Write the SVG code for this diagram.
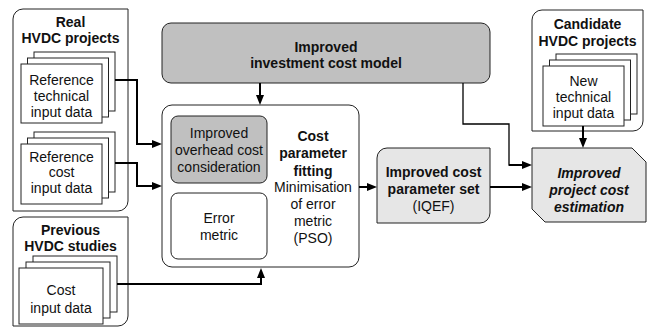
<svg xmlns="http://www.w3.org/2000/svg" width="647" height="327" viewBox="0 0 647 327">
<style>
text{font-family:"Liberation Sans",Arial,sans-serif;font-size:14px;fill:#111;text-anchor:middle}
.b{font-weight:bold}
.bi{font-weight:bold;font-style:italic}
.box{stroke:#222;stroke-width:1}
.pg{fill:#fff;stroke:#222;stroke-width:1}
.wh{fill:#fff}
.dk{fill:#c0c0c0}
.lt{fill:#e6e6e6}
.c{fill:none;stroke:#000;stroke-width:2}
.t{fill:none;stroke:#000;stroke-width:1.3}
</style>
<defs>
<marker id="ah" markerUnits="userSpaceOnUse" markerWidth="10" markerHeight="8" refX="2" refY="4" orient="auto">
<path d="M0,0 L10,4 L0,8 z" fill="#000"/>
</marker>
</defs>

<g id="real-projects">
<path class="box wh" d="M23,9 H128 V201 A10,10 0 0 1 118,211 H13 V19 A10,10 0 0 1 23,9 Z"/>
<text class="b" x="70.5" y="27">Real</text>
<text class="b" x="70.5" y="43">HVDC projects</text>
</g>
<g id="ref-technical">
<rect class="pg" x="34" y="52" width="81" height="59"/>
<rect class="pg" x="27.5" y="58" width="81" height="59"/>
<rect class="pg" x="21" y="64" width="81" height="59"/>
<text x="61.5" y="85">Reference</text>
<text x="61.5" y="101">technical</text>
<text x="61.5" y="117">input data</text>
</g>
<g id="ref-cost">
<rect class="pg" x="34" y="132" width="81" height="60"/>
<rect class="pg" x="27.5" y="138" width="81" height="60"/>
<rect class="pg" x="21" y="144" width="81" height="60"/>
<text x="61.5" y="162">Reference</text>
<text x="61.5" y="177">cost</text>
<text x="61.5" y="193">input data</text>
</g>

<g id="previous-studies">
<path class="box wh" d="M23,217 H128 V316 A10,10 0 0 1 118,326 H13 V227 A10,10 0 0 1 23,217 Z"/>
<text class="b" x="70.5" y="235">Previous</text>
<text class="b" x="70.5" y="251">HVDC studies</text>
</g>
<g id="cost-input">
<rect class="pg" x="33" y="256" width="84" height="56"/>
<rect class="pg" x="26" y="262" width="84" height="56"/>
<rect class="pg" x="19" y="268" width="84" height="56"/>
<text x="61" y="295">Cost</text>
<text x="61" y="313">input data</text>
</g>

<g id="investment-model">
<rect class="box dk" x="162" y="23" width="328" height="60" rx="9"/>
<text class="b" x="326" y="52">Improved</text>
<text class="b" x="326" y="68">investment cost model</text>
</g>

<g id="parameter-fitting">
<rect class="box wh" x="162" y="105" width="197" height="162" rx="10"/>
<text class="b" x="313" y="141">Cost</text>
<text class="b" x="313" y="158">parameter</text>
<text class="b" x="313" y="176">fitting</text>
<text x="313" y="192">Minimisation</text>
<text x="313" y="209">of error</text>
<text x="313" y="226">metric</text>
<text x="313" y="243">(PSO)</text>
</g>
<g id="overhead">
<rect class="box dk" x="171" y="116" width="96" height="67" rx="7"/>
<text x="219" y="138">Improved</text>
<text x="219" y="155">overhead cost</text>
<text x="219" y="172">consideration</text>
</g>
<g id="error-metric">
<rect class="box wh" x="171" y="193" width="96" height="66" rx="7"/>
<text x="219" y="223">Error</text>
<text x="219" y="240">metric</text>
</g>

<g id="param-set">
<path class="box lt" d="M387,148 H490 V213 A10,10 0 0 1 480,223 H377 V158 A10,10 0 0 1 387,148 Z"/>
<text class="b" x="433.5" y="177">Improved cost</text>
<text class="b" x="433.5" y="194">parameter set</text>
<text x="433.5" y="211">(IQEF)</text>
</g>

<g id="candidate-projects">
<path class="box wh" d="M542,10 H643 V121 A10,10 0 0 1 633,131 H532 V20 A10,10 0 0 1 542,10 Z"/>
<text class="b" x="587.5" y="29">Candidate</text>
<text class="b" x="587.5" y="46">HVDC projects</text>
</g>
<g id="new-technical">
<rect class="pg" x="556" y="54" width="81" height="60"/>
<rect class="pg" x="549.5" y="60" width="81" height="60"/>
<rect class="pg" x="543" y="66" width="81" height="60"/>
<text x="583.5" y="86">New</text>
<text x="583.5" y="102">technical</text>
<text x="583.5" y="118">input data</text>
</g>

<g id="cost-estimation">
<path class="box lt" d="M532,148 H632 L646,162 V222 H545 L532,209 Z"/>
<text class="bi" x="589" y="178">Improved</text>
<text class="bi" x="589" y="195">project cost</text>
<text class="bi" x="589" y="212">estimation</text>
</g>

<g id="connectors">
<path class="c" marker-end="url(#ah)" d="M115,80 H137 V144 H154"/>
<path class="c" marker-end="url(#ah)" d="M115,163 H137 V186 H154"/>
<path class="c" marker-end="url(#ah)" d="M117,284 H261 V276"/>
<path class="c" marker-end="url(#ah)" d="M260,83 V97"/>
<path class="c" marker-end="url(#ah)" d="M359,187 H369"/>
<path class="c" marker-end="url(#ah)" d="M490,187 H524"/>
<path class="t" d="M463,83 V124 H509 V165 H515"/>
<path class="c" marker-end="url(#ah)" d="M509,165 H524"/>
<path class="c" marker-end="url(#ah)" d="M583,126 V140"/>
</g>
</svg>
